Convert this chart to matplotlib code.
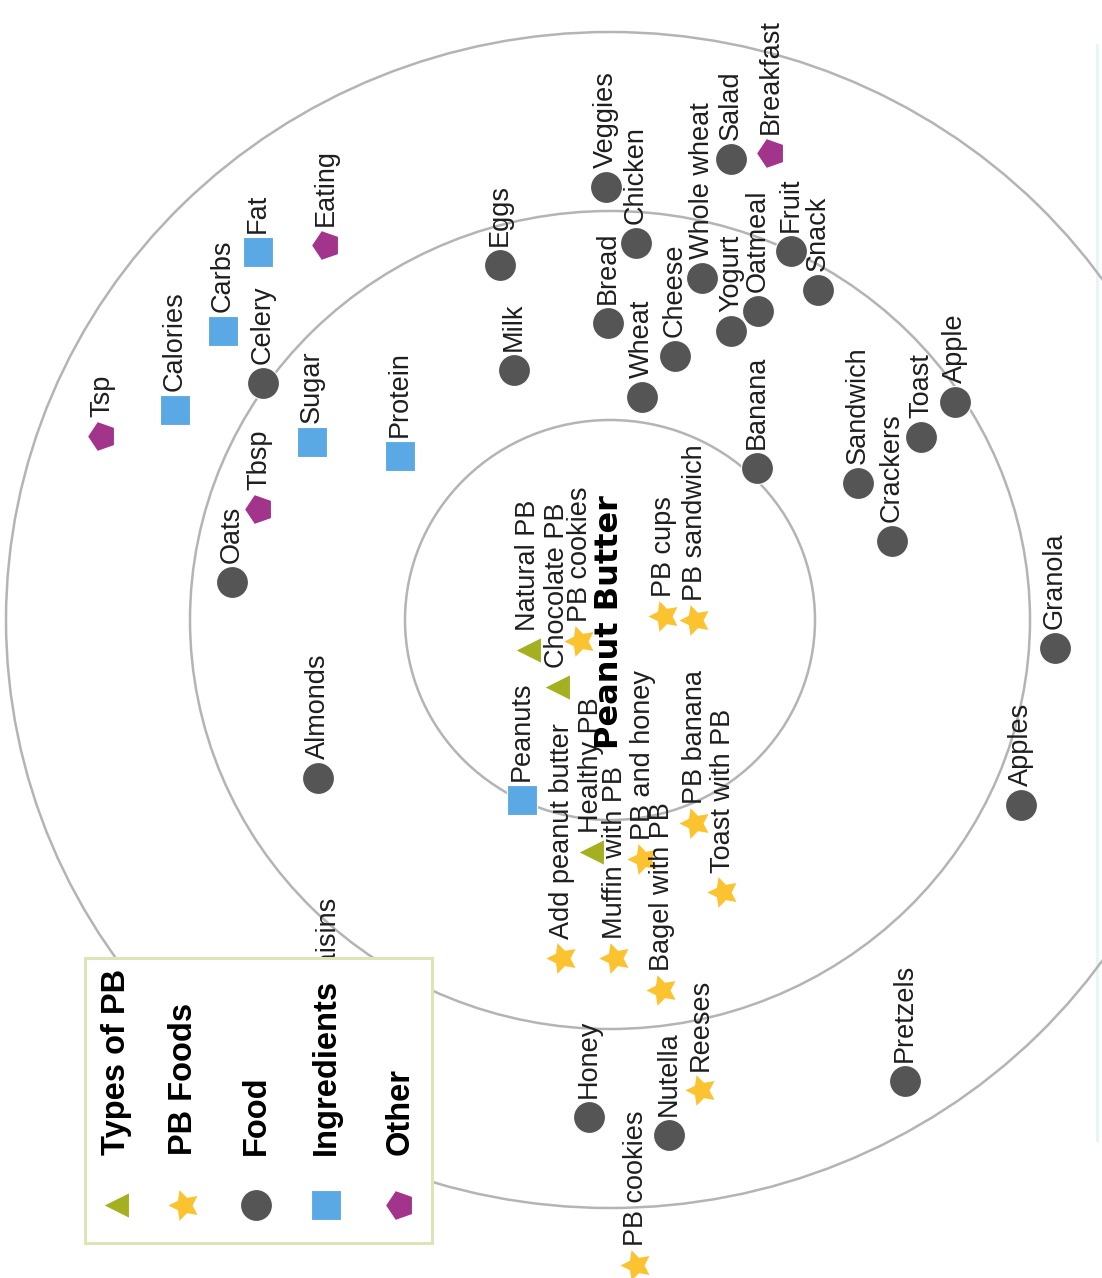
# %%
import matplotlib.pyplot as plt
from matplotlib.markers import MarkerStyle
from matplotlib.patches import Ellipse, Rectangle
from matplotlib.transforms import Affine2D

# %% data (picture is rotated 90 deg, values read off in pixel coords)
ring_center = (610, 620)
ring_rx = [205, 420, 604]
ring_ry = [200, 409, 588]

categories = ['Types of PB', 'PB Foods', 'Food', 'Ingredients', 'Other']

types_names = ['Natural PB', 'Chocolate PB', 'Healthy PB']
types_x = [528, 557, 591]
types_y = [650, 687, 852]

pbfood_names = ['PB cookies', 'PB cups', 'PB sandwich', 'Add peanut butter',
                'Muffin with PB', 'PB and honey', 'Bagel with PB', 'PB banana',
                'Toast with PB', 'Reeses', 'PB cookies']
pbfood_x = [580, 664, 695, 562, 615, 643, 662, 695, 723, 701, 636]
pbfood_y = [641, 616, 620, 958, 958, 859, 990, 823, 892, 1090, 1265]

food_names = ['Oats', 'Almonds', 'Raisins', 'Celery', 'Milk', 'Eggs', 'Bread',
              'Veggies', 'Chicken', 'Wheat', 'Cheese', 'Whole wheat', 'Yogurt',
              'Oatmeal', 'Salad', 'Fruit', 'Snack', 'Banana', 'Sandwich',
              'Crackers', 'Toast', 'Apple', 'Granola', 'Apples', 'Pretzels',
              'Honey', 'Nutella']
food_x = [232, 318, 327, 263, 514, 500, 608, 606, 636, 642, 675, 702, 731,
          758, 731, 791, 818, 757, 858, 892, 921, 955, 1055, 1021, 905, 589, 669]
food_y = [582, 778, 1003, 383, 370, 265, 323, 187, 243, 397, 356, 278, 331,
          311, 159, 251, 290, 468, 483, 541, 437, 402, 648, 805, 1081, 1117, 1135]

ingr_names = ['Calories', 'Carbs', 'Fat', 'Sugar', 'Protein', 'Peanuts']
ingr_x = [175, 223, 258, 312, 400, 522]
ingr_y = [410, 331, 252, 442, 456, 800]

other_names = ['Tsp', 'Eating', 'Tbsp', 'Breakfast']
other_x = [102, 326, 259, 771]
other_y = [436, 245, 509, 153]

center_label = 'Peanut Butter'

# %% styles
colors = ['#a4b020', '#fcc330', '#555555', '#5ba9e4', '#a3348b']
rot = Affine2D().rotate_deg(90)
markers = ['<', MarkerStyle((5, 1, 90)), 'o', 's',
           MarkerStyle('p', transform=rot)]
msizes = [19, 25, 23, 21, 22]
groups = [(types_names, types_x, types_y), (pbfood_names, pbfood_x, pbfood_y),
          (food_names, food_x, food_y), (ingr_names, ingr_x, ingr_y),
          (other_names, other_x, other_y)]

# %% plot
fig = plt.figure(figsize=(11.02, 12.78), dpi=100)
ax = fig.add_axes([0, 0, 1, 1])
ax.set_xlim(0, 1102)
ax.set_ylim(1278, 0)
ax.axis('off')

for rx, ry in zip(ring_rx, ring_ry):
    ax.add_patch(Ellipse(ring_center, 2 * rx, 2 * ry, fill=False,
                         edgecolor='#b4b4b4', lw=1.8, zorder=1))

# faint frame edge at the right
ax.plot([1097, 1097], [45, 1140], color='#e4f6f6', lw=2, zorder=0)

for (names, xs, ys), c, m, ms in zip(groups, colors, markers, msizes):
    ax.plot(xs, ys, ls='none', marker=m, ms=ms, color=c,
            mec='white', mew=0.8, zorder=3)
    for n, x, y in zip(names, xs, ys):
        ax.text(x, y - 19, n, rotation=90, ha='center', va='bottom',
                fontsize=19.5, family='Liberation Sans', color='#1e1e1e',
                zorder=4)

ax.text(ring_center[0], ring_center[1] + 2, center_label, rotation=90,
        ha='center', va='center', fontsize=23, fontweight='bold',
        family='DejaVu Sans', color='black', zorder=4)

# legend
ax.add_patch(Rectangle((85, 958), 347, 285, facecolor='white',
                       edgecolor='#dfe4b6', lw=2.2, zorder=8))
leg_x = [116, 184, 256, 326, 400]
for lx, cat, c, m, ms in zip(leg_x, categories, colors, markers, msizes):
    ax.plot([lx], [1205], ls='none', marker=m, ms=ms, color=c,
            mec='white', mew=0.8, zorder=9)
    ax.text(lx, 1155, cat, rotation=90, ha='center', va='bottom',
            fontsize=23.5, fontweight='bold', family='Liberation Sans',
            color='black', zorder=9)

fig.savefig('out.png', dpi=100)
